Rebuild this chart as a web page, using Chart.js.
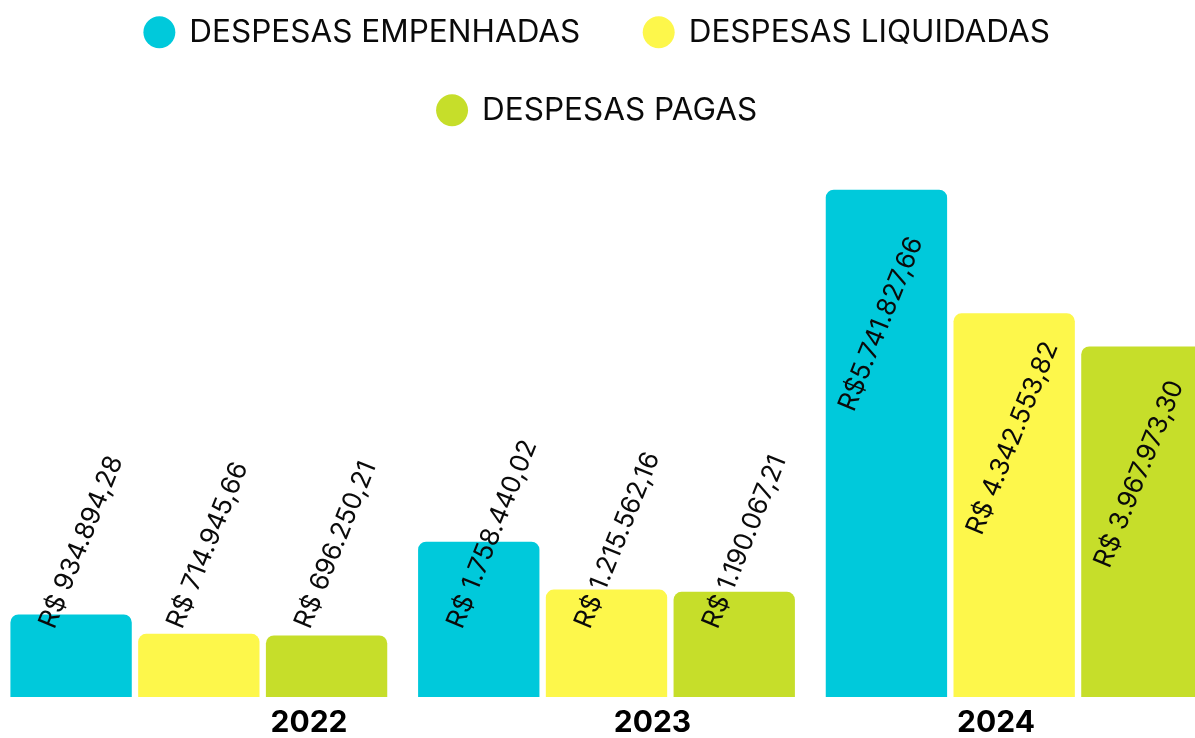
<!DOCTYPE html>
<html>
<head>
<meta charset="utf-8">
<script src="https://cdn.jsdelivr.net/npm/chart.js@4.4.1/dist/chart.umd.min.js"></script>
<style>
  html, body { margin: 0; padding: 0; background: #ffffff; overflow: hidden; width: 1195px; height: 738px; }
  #wrap { position: relative; width: 1195px; height: 738px; overflow: hidden; }
  #c { position: absolute; left: -5px; top: -30px; }
</style>
</head>
<body>
<div id="wrap"><canvas id="c" width="1223" height="779"></canvas></div>
<script>
// ---- data ----
const categories = ['2022', '2023', '2024'];
const seriesNames = ['DESPESAS EMPENHADAS', 'DESPESAS LIQUIDADAS', 'DESPESAS PAGAS'];
const empenhadas = [934894.28, 1758440.02, 5741827.66];
const liquidadas = [714945.66, 1215562.16, 4342553.82];
const pagas = [696250.21, 1190067.21, 3967973.30];
const labelsEmpenhadas = ['R$ 934.894,28', 'R$ 1.758.440,02', 'R$5.741.827,66'];
const labelsLiquidadas = ['R$ 714.945,66', 'R$ 1.215.562,16', 'R$ 4.342.553,82'];
const labelsPagas = ['R$ 696.250,21', 'R$ 1.190.067,21', 'R$ 3.967.973,30'];
const seriesColors = ['#00C9DB', '#FDF74B', '#C6DE2A'];

const seriesValues = [empenhadas, liquidadas, pagas];
const seriesLabels = [labelsEmpenhadas, labelsLiquidadas, labelsPagas];

// ---- plugins ----
const legendCenter = {
  id: 'legendCenter',
  afterLayout(chart) {
    const l = chart.legend;
    if (l) { l.left = 5; l.right = 1200; l.width = 1195; }
  }
};

const valueLabels = {
  id: 'valueLabels',
  afterDatasetsDraw(chart) {
    const ctx = chart.ctx;
    const base = chart.scales.y.getPixelForValue(0);
    const ang = 68 * Math.PI / 180;
    chart.data.datasets.forEach((ds, di) => {
      const meta = chart.getDatasetMeta(di);
      meta.data.forEach((bar, i) => {
        const text = seriesLabels[di][i];
        let sy = bar.y + 220;
        let sx = bar.x - 40;
        if (sy > base - 70) { sy = base - 70; sx = bar.x - 24; }
        ctx.save();
        ctx.font = '400 26px Inter';
        ctx.fillStyle = '#0a0a0a';
        ctx.textAlign = 'left';
        ctx.textBaseline = 'middle';
        ctx.translate(sx, sy);
        ctx.rotate(-ang);
        ctx.fillText(text, 0, 0);
        ctx.restore();
      });
    });
  }
};

const datasets = seriesNames.map((name, k) => ({
  label: name,
  data: seriesValues[k],
  backgroundColor: seriesColors[k],
  borderRadius: 8,
  borderSkipped: 'start',
  categoryPercentage: 0.94,
  barPercentage: 0.95,
  xAxisID: 'x'
}));

new Chart(document.getElementById('c'), {
  type: 'bar',
  data: { labels: categories, datasets },
  options: {
    responsive: false,
    animation: false,
    devicePixelRatio: 1,
    layout: { padding: 0 },
    plugins: {
      legend: {
        position: 'top',
        labels: {
          usePointStyle: true,
          pointStyle: 'circle',
          boxWidth: 28.5,
          boxHeight: 22.6,
          padding: 46.5,
          color: '#0a0a0a',
          font: { family: 'Inter', size: 31.5, weight: '400' },
          generateLabels(chart) {
            const items = Chart.defaults.plugins.legend.labels.generateLabels(chart);
            if (items.length) items[0].text = items[0].text + '  ';
            return items;
          }
        }
      },
      tooltip: { enabled: false }
    },
    scales: {
      x: {
        display: false,
        type: 'category'
      },
      xl: {
        type: 'linear',
        position: 'bottom',
        offset: false,
        bounds: 'data',
        min: -0.9141,
        max: 2.6463,
        afterBuildTicks(axis) { axis.ticks = categories.map((c, i) => ({ value: i })); },
        grid: { display: false, drawTicks: false, offset: false },
        border: { display: false },
        ticks: {
          padding: 11,
          color: '#000000',
          font: { family: 'Inter', size: 30, weight: '700', lineHeight: 1.0 },
          callback: (v) => categories[v]
        }
      },
      y: {
        display: false,
        min: 0,
        max: 6350000
      }
    }
  },
  plugins: [legendCenter, valueLabels]
});
</script>
</body>
</html>
